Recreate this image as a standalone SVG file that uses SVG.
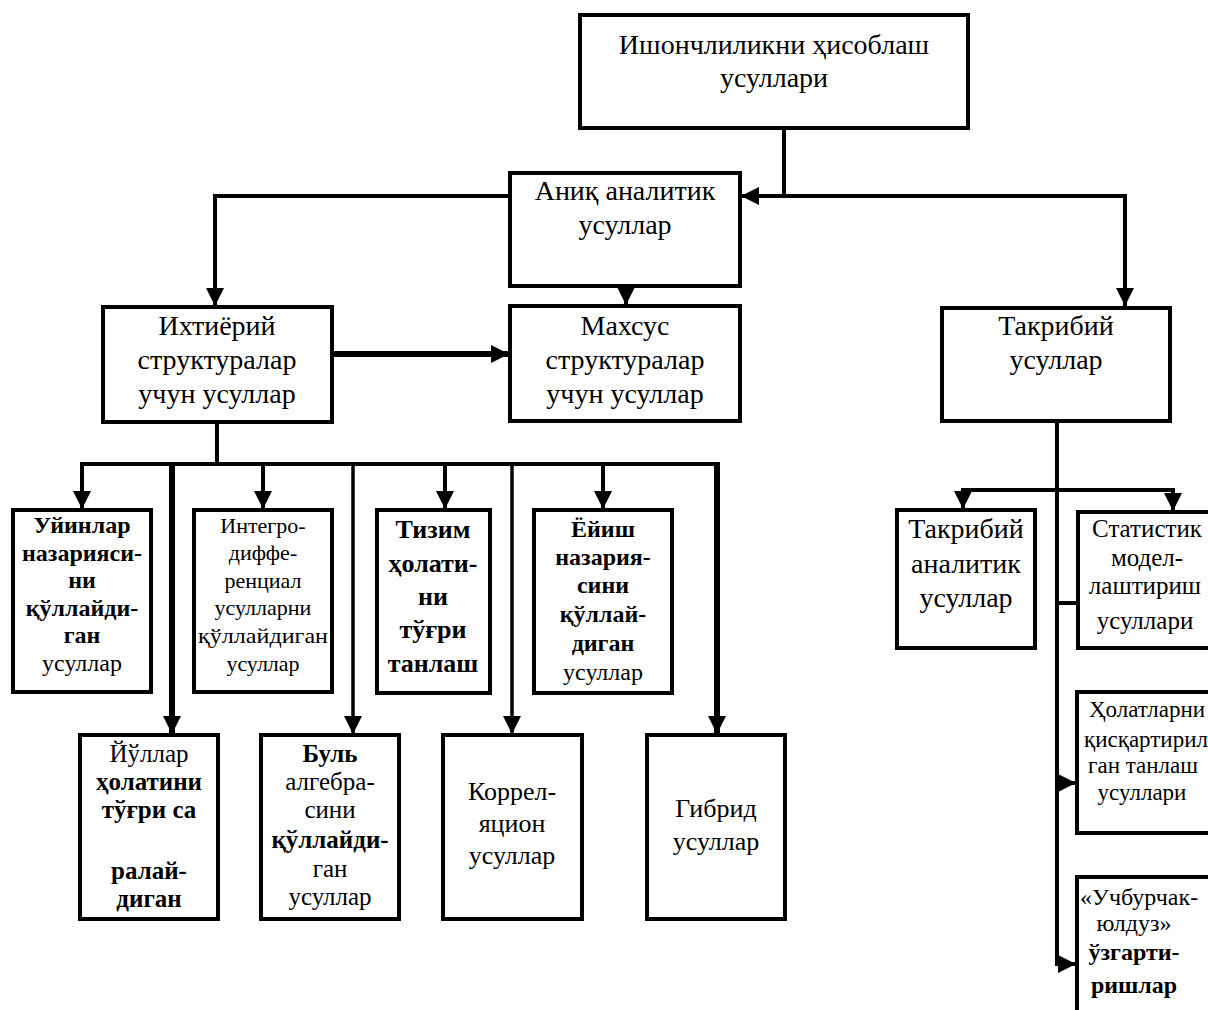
<svg xmlns="http://www.w3.org/2000/svg" width="1208" height="1010" viewBox="0 0 1208 1010">
  <style>
    .box { fill: #fff; stroke: #000; stroke-width: 4; }
    .ln { fill: none; stroke: #000; stroke-width: 4; stroke-linejoin: miter; stroke-linecap: butt; }
    .thick { stroke-width: 6; }
    .thin { stroke-width: 3.5; }
    text { font-family: "Liberation Serif", "Times New Roman", serif; fill: #000; text-anchor: middle; }
    .f28 { font-size: 28px; }
    .f26 { font-size: 26px; }
    .f25 { font-size: 25px; }
    .f24 { font-size: 24px; }
    .f23 { font-size: 23px; }
    .f22 { font-size: 22px; }
    .b { font-weight: bold; }
  </style>
  <defs>
    <marker id="arr" markerUnits="userSpaceOnUse" markerWidth="20" markerHeight="20" refX="18" refY="10" orient="auto">
      <path d="M0,1 L18,10 L0,19 z" fill="#000"/>
    </marker>
  </defs>

  <rect width="1208" height="1010" fill="#fff"/>

  <!-- connectors -->
  <g id="connectors">
    <path class="ln" d="M784,128 V196 H741" marker-end="url(#arr)"/>
    <path class="ln" d="M782,196 H1125 V306" marker-end="url(#arr)"/>
    <path class="ln" d="M510,196 H215 V306" marker-end="url(#arr)"/>
    <path class="ln" d="M626,286 V305" marker-end="url(#arr)"/>
    <path class="ln thick" d="M332,354 H509" marker-end="url(#arr)"/>
    <!-- bus under the arbitrary-structure methods -->
    <path class="ln" d="M217,422 V464"/>
    <path class="ln" d="M80,464 H719"/>
    <path class="ln" d="M82,462 V509" marker-end="url(#arr)"/>
    <path class="ln" d="M263,462 V509" marker-end="url(#arr)"/>
    <path class="ln" d="M445,462 V509" marker-end="url(#arr)"/>
    <path class="ln" d="M603,462 V509" marker-end="url(#arr)"/>
    <path class="ln thick" d="M172,462 V734" marker-end="url(#arr)"/>
    <path class="ln thin" d="M353,462 V734" marker-end="url(#arr)"/>
    <path class="ln thin" d="M512,462 V734" marker-end="url(#arr)"/>
    <path class="ln thick" d="M717,462 V734" marker-end="url(#arr)"/>
    <!-- approximate methods branch -->
    <path class="ln" d="M1057,421 V964 H1076" marker-end="url(#arr)"/>
    <path class="ln" d="M1059,490 H963 V509" marker-end="url(#arr)"/>
    <path class="ln" d="M1055,490 H1173 V511" marker-end="url(#arr)"/>
    <path class="ln" d="M1057,603 H1078"/>
    <path class="ln" d="M1057,783 H1076" marker-end="url(#arr)"/>
  </g>

  <g id="root">
    <rect class="box" x="580" y="15" width="388" height="113"/>
    <text class="f28" x="774" y="54">Ишончлиликни ҳисоблаш</text>
    <text class="f28" x="774" y="87">усуллари</text>
  </g>

  <g id="exact">
    <rect class="box" x="510" y="173" width="230" height="113"/>
    <text class="f28" x="625" y="200">Аниқ аналитик</text>
    <text class="f28" x="625" y="234">усуллар</text>
  </g>

  <g id="arbitrary">
    <rect class="box" x="103" y="307" width="229" height="115"/>
    <text class="f28" x="217" y="335">Ихтиёрий</text>
    <text class="f28" x="217" y="369">структуралар</text>
    <text class="f28" x="217" y="403">учун усуллар</text>
  </g>

  <g id="special">
    <rect class="box" x="510" y="306" width="230" height="115"/>
    <text class="f28" x="625" y="335">Махсус</text>
    <text class="f28" x="625" y="369">структуралар</text>
    <text class="f28" x="625" y="403">учун усуллар</text>
  </g>

  <g id="approx">
    <rect class="box" x="942" y="308" width="228" height="113"/>
    <text class="f28" x="1056" y="335">Такрибий</text>
    <text class="f28" x="1056" y="369">усуллар</text>
  </g>

  <g id="games">
    <rect class="box" x="13" y="510" width="138" height="182"/>
    <text class="f24 b" x="82" y="533">Уйинлар</text>
    <text class="f24 b" x="82" y="561">назарияси-</text>
    <text class="f24 b" x="82" y="588">ни</text>
    <text class="f24 b" x="82" y="616">қўллайди-</text>
    <text class="f24 b" x="82" y="643">ган</text>
    <text class="f24" x="82" y="671">усуллар</text>
  </g>

  <g id="integro">
    <rect class="box" x="194" y="510" width="138" height="182"/>
    <text class="f22" x="263" y="533">Интегро-</text>
    <text class="f22" x="263" y="560">диффе-</text>
    <text class="f22" x="263" y="588">ренциал</text>
    <text class="f22" x="263" y="615">усулларни</text>
    <text class="f22" x="263" y="643" textLength="130" lengthAdjust="spacingAndGlyphs">қўллайдиган</text>
    <text class="f22" x="263" y="671">усуллар</text>
  </g>

  <g id="state">
    <rect class="box" x="377" y="510" width="113" height="183"/>
    <text class="f26 b" x="433" y="538">Тизим</text>
    <text class="f26 b" x="433" y="572">ҳолати-</text>
    <text class="f26 b" x="433" y="605">ни</text>
    <text class="f26 b" x="433" y="638">тўғри</text>
    <text class="f26 b" x="433" y="672">танлаш</text>
  </g>

  <g id="wear">
    <rect class="box" x="534" y="510" width="138" height="183"/>
    <text class="f24 b" x="603" y="537">Ёйиш</text>
    <text class="f24 b" x="603" y="565">назария-</text>
    <text class="f24 b" x="603" y="593">сини</text>
    <text class="f24 b" x="603" y="622">қўллай-</text>
    <text class="f24 b" x="603" y="651">диган</text>
    <text class="f24" x="603" y="680">усуллар</text>
  </g>

  <g id="paths">
    <rect class="box" x="80" y="735" width="138" height="184"/>
    <text class="f25" x="149" y="762">Йўллар</text>
    <text class="f25 b" x="149" y="790">ҳолатини</text>
    <text class="f25 b" x="149" y="818">тўғри са</text>
    <text class="f25 b" x="149" y="879">ралай-</text>
    <text class="f25 b" x="149" y="907">диган</text>
  </g>

  <g id="boolean">
    <rect class="box" x="261" y="735" width="138" height="184"/>
    <text class="f25 b" x="330" y="762">Буль</text>
    <text class="f25" x="330" y="790">алгебра-</text>
    <text class="f25" x="330" y="818">сини</text>
    <text class="f25 b" x="330" y="848">қўллайди-</text>
    <text class="f25" x="330" y="877">ган</text>
    <text class="f25" x="330" y="905">усуллар</text>
  </g>

  <g id="correlation">
    <rect class="box" x="443" y="735" width="139" height="184"/>
    <text class="f26" x="512" y="800">Коррел-</text>
    <text class="f26" x="512" y="832">яцион</text>
    <text class="f26" x="512" y="864">усуллар</text>
  </g>

  <g id="hybrid">
    <rect class="box" x="647" y="735" width="138" height="184"/>
    <text class="f26" x="716" y="817">Гибрид</text>
    <text class="f26" x="716" y="850">усуллар</text>
  </g>

  <g id="approx-analytic">
    <rect class="box" x="897" y="510" width="138" height="138"/>
    <text class="f28" x="966" y="538">Такрибий</text>
    <text class="f28" x="966" y="573">аналитик</text>
    <text class="f28" x="966" y="607">усуллар</text>
  </g>

  <g id="statistic">
    <rect class="box" x="1078" y="512" width="140" height="136"/>
    <text class="f25" x="1147" y="537">Статистик</text>
    <text class="f25" x="1147" y="566">модел-</text>
    <text class="f25" x="1145" y="594">лаштириш</text>
    <text class="f25" x="1145" y="629">усуллари</text>
  </g>

  <g id="reduced">
    <rect class="box" x="1077" y="692" width="140" height="141"/>
    <text class="f23" x="1147" y="717">Ҳолатларни</text>
    <text class="f23" x="1146" y="747">қисқартирил</text>
    <text class="f23" x="1143" y="773">ган танлаш</text>
    <text class="f23" x="1142" y="800">усуллари</text>
  </g>

  <g id="delta-star">
    <rect class="box" x="1077" y="877" width="140" height="150"/>
    <text class="f24" x="1080" y="905" style="text-anchor:start">«Учбурчак-</text>
    <text class="f24" x="1134" y="931">юлдуз»</text>
    <text class="f24 b" x="1134" y="960">ўзгарти-</text>
    <text class="f24 b" x="1134" y="993">ришлар</text>
  </g>
</svg>
